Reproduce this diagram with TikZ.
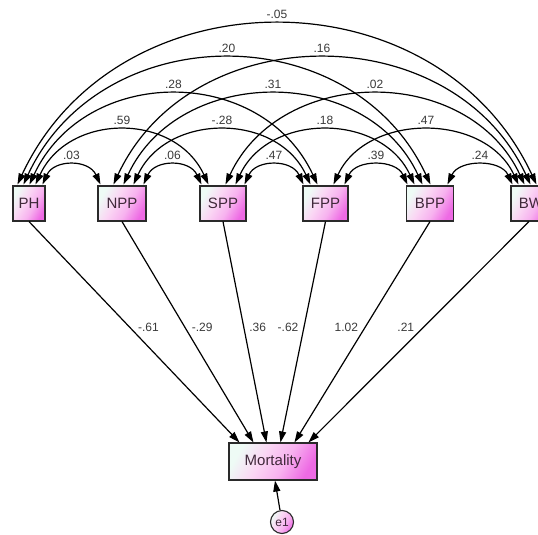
\documentclass[tikz,border=0pt]{standalone}
\usepackage{fontspec}
\setmainfont{Liberation Sans}
\usetikzlibrary{arrows.meta,calc,shadings}
\definecolor{sA}{HTML}{EEFBF5}
\definecolor{sB}{HTML}{FAD6F4}
\definecolor{sC}{HTML}{F7B2EF}
\definecolor{sD}{HTML}{EE6AE4}
\pgfdeclarehorizontalshading{boxshade}{100bp}{color(0bp)=(sA); color(25bp)=(sA); color(42bp)=(sB); color(58bp)=(sC); color(75bp)=(sD); color(100bp)=(sD)}
\definecolor{boxline}{HTML}{2A2A2A}
\definecolor{boxtext}{HTML}{40283A}
\definecolor{labtext}{HTML}{3A3A3A}
\newcommand\covarc[4]{\draw[cov] (#1) .. controls +(0.6215*#3,-1.3328*#3) and +(-0.6215*#3,-1.3328*#3) .. (#2) node[lab, pos=0.5, above=4pt] {#4};}
\begin{document}
\begin{tikzpicture}[x=1pt,y=-1pt,
  var/.style={shade, shading=boxshade, shading angle=-30, draw=boxline, line width=1.1pt, minimum height=35pt, inner sep=0pt,
    font=\fontsize{15}{15}\selectfont, text=boxtext},
  errc/.style={circle, shade, shading=boxshade, shading angle=-30, draw=boxline, line width=1.1pt, minimum size=23pt, inner sep=0pt,
    font=\fontsize{12}{12}\selectfont, text=boxtext},
  cov/.style={line width=1.2pt, {Triangle[length=11pt,width=7pt]}-{Triangle[length=11pt,width=7pt]}},
  reg/.style={line width=1.2pt, -{Triangle[length=11pt,width=7pt]}},
  lab/.style={font=\fontsize{12}{12}\selectfont, text=labtext, inner sep=1.5pt}]
\clip (0,0) rectangle (538,535);
\fill[white] (0,0) rectangle (538,535);
% variables
\node[var, minimum width=32pt] (PH)  at (29,203.5)    {PH};
\node[var, minimum width=48pt] (NPP) at (122,203.5)   {NPP};
\node[var, minimum width=46pt] (SPP) at (223,203.5)   {SPP};
\node[var, minimum width=45pt] (FPP) at (325.5,203.5) {FPP};
\node[var, minimum width=47pt] (BPP) at (430,203.5)   {BPP};
\node[var, minimum width=40pt] (BW)  at (531,203.5)   {BW};
\node[var, minimum width=88pt, minimum height=37pt] (mort) at (273,461.5) {Mortality};
\node[errc] (e1) at (282,522) {e1};
% arc end points on box tops
\coordinate (PHbw)  at ($(PH.north west)+(5,-1)$);
\coordinate (PHbpp) at ($(PH.north west)+(11,-1)$);
\coordinate (PHfpp) at ($(PH.north west)+(17,-1)$);
\coordinate (PHspp) at ($(PH.north west)+(23,-1)$);
\coordinate (PHnpp) at ($(PH.north west)+(30,-1)$);
\coordinate (NPPph)  at ($(NPP.north west)+(3,-1)$);
\coordinate (NPPbw)  at ($(NPP.north west)+(16,-1)$);
\coordinate (NPPbpp) at ($(NPP.north west)+(26,-1)$);
\coordinate (NPPfpp) at ($(NPP.north west)+(36,-1)$);
\coordinate (NPPspp) at ($(NPP.north west)+(46,-1)$);
\coordinate (SPPnpp) at ($(SPP.north west)+(2,-1)$);
\coordinate (SPPph)  at ($(SPP.north west)+(9,-1)$);
\coordinate (SPPbw)  at ($(SPP.north west)+(26,-1)$);
\coordinate (SPPbpp) at ($(SPP.north west)+(36,-1)$);
\coordinate (SPPfpp) at ($(SPP.north west)+(45,-1)$);
\coordinate (FPPspp) at ($(FPP.north west)+(1,-1)$);
\coordinate (FPPnpp) at ($(FPP.north west)+(8,-1)$);
\coordinate (FPPph)  at ($(FPP.north west)+(15,-1)$);
\coordinate (FPPbw)  at ($(FPP.north west)+(31,-1)$);
\coordinate (FPPbpp) at ($(FPP.north west)+(42,-1)$);
\coordinate (BPPfpp) at ($(BPP.north west)+(1.5,-1)$);
\coordinate (BPPspp) at ($(BPP.north west)+(8.5,-1)$);
\coordinate (BPPnpp) at ($(BPP.north west)+(16.5,-1)$);
\coordinate (BPPph)  at ($(BPP.north west)+(24.5,-1)$);
\coordinate (BPPbw)  at ($(BPP.north west)+(41.5,-1)$);
\coordinate (BWbpp) at ($(BW.north west)+(2,-1)$);
\coordinate (BWfpp) at ($(BW.north west)+(8,-1)$);
\coordinate (BWspp) at ($(BW.north west)+(14,-1)$);
\coordinate (BWnpp) at ($(BW.north west)+(20,-1)$);
\coordinate (BWph)  at ($(BW.north west)+(26,-1)$);
% covariance arcs
\covarc{PHnpp}{NPPph}{19}{.03}
\covarc{NPPspp}{SPPnpp}{19}{.06}
\covarc{SPPfpp}{FPPspp}{19}{.47}
\covarc{FPPbpp}{BPPfpp}{19}{.39}
\covarc{BPPbw}{BWbpp}{19}{.24}
\covarc{PHspp}{SPPph}{54}{.59}
\covarc{NPPfpp}{FPPnpp}{54}{-.28}
\covarc{SPPbpp}{BPPspp}{54}{.18}
\covarc{FPPbw}{BWfpp}{54}{.47}
\covarc{PHfpp}{FPPph}{90}{.28}
\covarc{NPPbpp}{BPPnpp}{90}{.31}
\covarc{SPPbw}{BWspp}{90}{.02}
\covarc{PHbpp}{BPPph}{126}{.20}
\covarc{NPPbw}{BWnpp}{126}{.16}
\covarc{PHbw}{BWph}{160}{-.05}
% regression paths
\coordinate (mPH)  at ($(mort.north west)+(11,0)$);
\coordinate (mNPP) at ($(mort.north west)+(25,0)$);
\coordinate (mSPP) at ($(mort.north west)+(38,0)$);
\coordinate (mFPP) at ($(mort.north west)+(52,0)$);
\coordinate (mBPP) at ($(mort.north west)+(66,0)$);
\coordinate (mBW)  at ($(mort.north west)+(80,0)$);
\coordinate (BWs) at ($(BW.south)+(-2,0)$);
\draw[reg] (PH.south)  -- (mPH)  node[lab, pos=0.477, xshift=19pt]  {-.61};
\draw[reg] (NPP.south) -- (mNPP) node[lab, pos=0.477, xshift=17.5pt] {-.29};
\draw[reg] (SPP.south) -- (mSPP) node[lab, pos=0.477, xshift=14pt]  {.36};
\draw[reg] (FPP.south) -- (mFPP) node[lab, pos=0.477, xshift=-16pt] {-.62};
\draw[reg] (BPP.south) -- (mBPP) node[lab, pos=0.477, xshift=-19pt] {1.02};
\draw[reg] (BWs) -- (mBW) node[lab, pos=0.477, xshift=-18pt] {.21};
\coordinate (mE) at ($(mort.south)+(2,0)$);
\draw[reg] (e1) -- (mE);
\end{tikzpicture}
\end{document}
